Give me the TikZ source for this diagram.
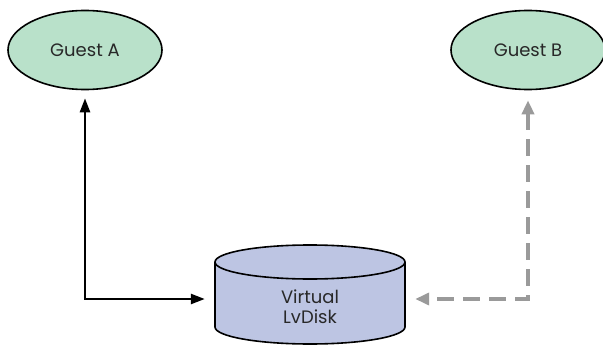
\documentclass[tikz,border=0pt]{standalone}
\usepackage{fontspec}
\setmainfont{Poppins}
\usetikzlibrary{arrows.meta}
\usetikzlibrary{shapes.geometric}
\definecolor{guestgreen}{RGB}{185,225,202}
\definecolor{disklav}{RGB}{189,197,227}
\definecolor{linkgray}{RGB}{154,154,154}
\definecolor{textgray}{RGB}{40,40,40}
\tikzset{
  guest/.style={ellipse,draw,line width=1.6pt,fill=guestgreen,text=textgray,
    minimum width=154pt,minimum height=79pt,font=\fontsize{18}{21}\selectfont},
  disk/.style={minimum width=190pt,minimum height=82pt,inner sep=0pt},
  disktext/.style={align=center,text=textgray,font=\fontsize{18}{20}\selectfont},
  linkA/.style={line width=2.5pt,{Triangle[length=14pt,width=10pt]}-{Triangle[length=14pt,width=10pt]}},
  linkB/.style={line width=4.5pt,draw=linkgray,dash pattern=on 17pt off 9pt,
    {Triangle[length=14pt,width=12pt]}-{Triangle[length=14pt,width=12pt]}}}

\begin{document}
\begin{tikzpicture}[x=1pt,y=-1pt]
  \useasboundingbox (0,0) rectangle (603,345);
  \node [guest] (guestA) at (85,50) {Guest A};
  \node [guest] (guestB) at (528,50) {Guest B};
  % the disk body, drawn by hand
  \filldraw [fill=disklav,line width=1.6pt,line join=round]
    (215,262) -- (215,327) arc [start angle=180,end angle=0,x radius=95,y radius=17]
    -- (405,262) arc [start angle=0,end angle=-180,x radius=95,y radius=17] -- cycle;
  \draw [line width=1.6pt] (215,262) arc [start angle=180,end angle=0,x radius=95,y radius=17];
  \node [disk] (lvdisk) at (310,299) {};
  \node [disktext] (lvlabel) at (310,307) {Virtual\\LvDisk};
  \draw [linkA,shorten <=8pt,shorten >=10pt] (guestA) |- (lvdisk);
  \draw [linkB,shorten <=10pt,shorten >=10pt] (guestB) |- (lvdisk);
\end{tikzpicture}
\end{document}
